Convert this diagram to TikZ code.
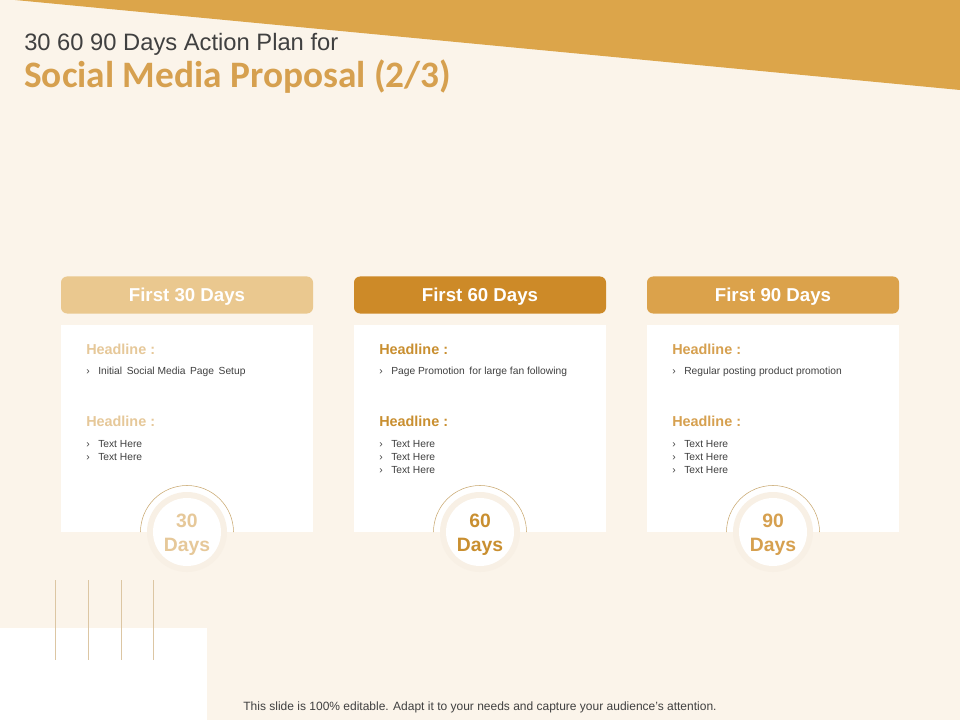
\documentclass[tikz,border=0pt]{standalone}
\usepackage{fontspec}
\setmainfont{Liberation Sans}
\newfontfamily\titlefont{Carlito}
\definecolor{bgcream}{HTML}{FBF4EA}
\definecolor{bandgold}{HTML}{DCA54A}
\definecolor{headlight}{HTML}{EAC88F}
\definecolor{headdark}{HTML}{CD8A28}
\definecolor{headmid}{HTML}{DBA24B}
\definecolor{hlinelight}{HTML}{E6C899}
\definecolor{hlinedark}{HTML}{C98F30}
\definecolor{hlinemid}{HTML}{D6A04F}
\definecolor{ringtan}{HTML}{C9A870}
\definecolor{ringfill}{HTML}{F8F0E5}
\definecolor{txtgray}{HTML}{404040}
\definecolor{linetan}{HTML}{DCC6A3}
\newcommand{\bul}{\makebox[9pt][l]{\char"203A}}
\tikzset{
  head/.style={rounded corners=4.5pt, minimum width=189pt, minimum height=27.75pt,
    inner sep=0pt, text=white, font=\bfseries\fontsize{14}{16}\selectfont},
  card/.style={fill=white, minimum width=189pt, minimum height=155.25pt, inner sep=0pt},
  headline/.style={anchor=west, inner sep=0pt, font=\bfseries\fontsize{10.8}{12}\selectfont},
  bullets/.style={anchor=north west, inner sep=0pt, align=left, text=txtgray,
    font=\fontsize{7.7}{9.75}\selectfont},
  ring/.style={circle, fill=ringfill, minimum size=60pt, inner sep=0pt},
  disc/.style={circle, fill=white, minimum size=51pt, inner sep=0pt},
  daytext/.style={align=center, inner sep=0pt, font=\bfseries\fontsize{14.5}{18}\selectfont}
}
\begin{document}
\begin{tikzpicture}[x=0.75pt,y=-0.75pt]
\fill [bgcream] (0,0) rectangle (960,720);
\useasboundingbox (0,0) rectangle (960,720);
% top band and title
\fill [bandgold] (15,0) -- (960,0) -- (960,90) -- cycle;
\node [anchor=base west, inner sep=0pt, text=txtgray, font=\fontsize{17.8}{20}\selectfont] (title) at (24,51) {30 60 90 Days Action Plan for};
\node [anchor=base west, inner sep=0pt, text=hlinemid, font=\titlefont\bfseries\fontsize{28}{32}\selectfont] (subtitle) at (24,88) {Social Media Proposal (2/3)};
% bottom left corner
\fill [white] (0,628) rectangle (207,720);
\draw [linetan, thin] (55,580) -- (55,660);
\draw [linetan, thin] (88,580) -- (88,660);
\draw [linetan, thin] (121,580) -- (121,660);
\draw [linetan, thin] (153,580) -- (153,660);
% first 30 days
\node [head, fill=headlight] (head1) at (187,295) {};
\node [text=white, font=\bfseries\fontsize{14}{16}\selectfont] (headtxt1) at (187,296.5) {First 30 Days};
\node [card] (card1) at (187,428.5) {};
\node [headline, text=hlinelight] (hla1) at (86,349) {Headline :};
\node [bullets] (bla1) at (86,366.5) {\bul Initial\, Social Media\, Page\, Setup};
\node [headline, text=hlinelight] (hlb1) at (86,421) {Headline :};
\node [bullets] (blb1) at (86,440) {\bul Text Here\\\bul Text Here};
\draw [ringtan, thin] (140.5,532) arc [start angle=180, end angle=360, radius=46.5];
\node [ring] (ring1) at (187,532) {};
\node [disc] (disc1) at (ring1) {};
\node [daytext, text=hlinelight] (days1) at (187,535) {30\\Days};
% first 60 days
\node [head, fill=headdark] (head2) at (480,295) {};
\node [text=white, font=\bfseries\fontsize{14}{16}\selectfont] (headtxt2) at (480,296.5) {First 60 Days};
\node [card] (card2) at (480,428.5) {};
\node [headline, text=hlinedark] (hla2) at (379,349) {Headline :};
\node [bullets] (bla2) at (379,366.5) {\bul Page Promotion\, for large fan following};
\node [headline, text=hlinedark] (hlb2) at (379,421) {Headline :};
\node [bullets] (blb2) at (379,440) {\bul Text Here\\\bul Text Here\\\bul Text Here};
\draw [ringtan, thin] (433.5,532) arc [start angle=180, end angle=360, radius=46.5];
\node [ring] (ring2) at (480,532) {};
\node [disc] (disc2) at (ring2) {};
\node [daytext, text=hlinedark] (days2) at (480,535) {60\\Days};
% first 90 days
\node [head, fill=headmid] (head3) at (773,295) {};
\node [text=white, font=\bfseries\fontsize{14}{16}\selectfont] (headtxt3) at (773,296.5) {First 90 Days};
\node [card] (card3) at (773,428.5) {};
\node [headline, text=hlinemid] (hla3) at (672,349) {Headline :};
\node [bullets] (bla3) at (672,366.5) {\bul Regular posting product promotion};
\node [headline, text=hlinemid] (hlb3) at (672,421) {Headline :};
\node [bullets] (blb3) at (672,440) {\bul Text Here\\\bul Text Here\\\bul Text Here};
\draw [ringtan, thin] (726.5,532) arc [start angle=180, end angle=360, radius=46.5];
\node [ring] (ring3) at (773,532) {};
\node [disc] (disc3) at (ring3) {};
\node [daytext, text=hlinemid] (days3) at (773,535) {90\\Days};
% footer
\node [inner sep=0pt, text=txtgray, font=\fontsize{9}{10}\selectfont] (footer) at (480,707) {This slide is 100\% editable. Adapt it to your needs and capture your audience’s attention.};
\end{tikzpicture}
\end{document}
